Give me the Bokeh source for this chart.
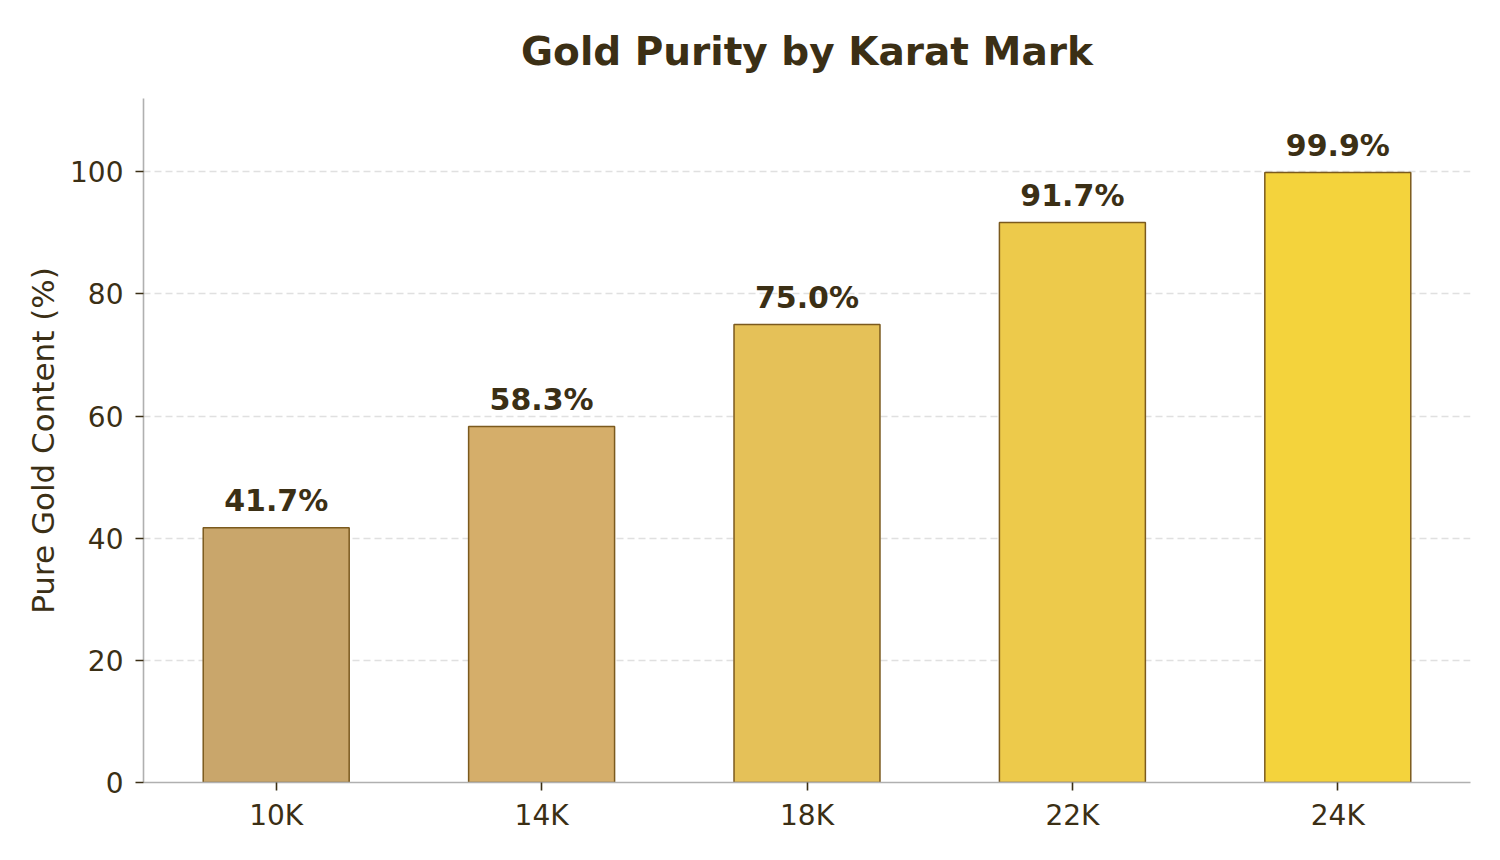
from bokeh.plotting import figure
from bokeh.models import ColumnDataSource, Range1d, FactorRange
from bokeh.core.properties import value
from bokeh.embed import file_html
from bokeh.resources import INLINE

karats = ["10K", "14K", "18K", "22K", "24K"]
purity = [41.7, 58.3, 75.0, 91.7, 99.9]
labels = ["41.7%", "58.3%", "75.0%", "91.7%", "99.9%"]
colors = ["#C9A66B", "#D5AE6A", "#E5C158", "#EDCA4B", "#F4D33C"]
y_ticks = [0, 20, 40, 60, 80, 100]

TEXT = "#3b2f15"
FONT = "DejaVu Sans"

src = ColumnDataSource(dict(k=karats, v=purity, lab=labels, c=colors))

p = figure(width=1484, height=844, x_range=FactorRange(*karats, range_padding=0),
           y_range=Range1d(0, 112), output_backend="svg", toolbar_location=None,
           min_border_left=143, min_border_right=14, min_border_top=98,
           min_border_bottom=62, title="Gold Purity by Karat Mark")

p.vbar(x="k", top="v", width=0.55, source=src, fill_color="c",
       line_color="#7B5A1E", line_width=1.5)
p.text(x="k", y="v", text="lab", source=src, text_align="center",
       text_baseline="alphabetic", y_offset=-27, text_font_size="30px",
       text_font_style="bold", text_color=TEXT, text_font=value(FONT))

p.title.align = "center"
p.title.text_font = FONT
p.title.text_font_size = "39px"
p.title.text_font_style = "bold"
p.title.text_color = TEXT
p.title.text_line_height = 1.0
p.title.standoff = 50

p.outline_line_color = None
p.xgrid.grid_line_color = None
p.ygrid.grid_line_color = "#e0e0e0"
p.ygrid.grid_line_dash = "7 4"
p.ygrid.grid_line_width = 1.3
p.yaxis.ticker = y_ticks

for ax in (p.xaxis, p.yaxis):
    ax.axis_line_color = "#b0b0b0"
    ax.axis_line_width = 1.6
    ax.major_tick_line_color = TEXT
    ax.major_tick_line_width = 1.6
    ax.major_tick_out = 8
    ax.major_tick_in = 0
    ax.minor_tick_line_color = None
    ax.major_label_text_font = FONT
    ax.major_label_text_font_size = "28px"
    ax.major_label_text_color = TEXT
    ax.major_label_standoff = 8

p.yaxis.major_label_standoff = 12

p.yaxis.axis_label = "Pure Gold Content (%)"
p.yaxis.axis_label_text_font = FONT
p.yaxis.axis_label_text_font_size = "31px"
p.yaxis.axis_label_text_font_style = "normal"
p.yaxis.axis_label_text_color = TEXT
p.yaxis.axis_label_standoff = 6

open("out.html", "w").write(file_html(p, INLINE))
